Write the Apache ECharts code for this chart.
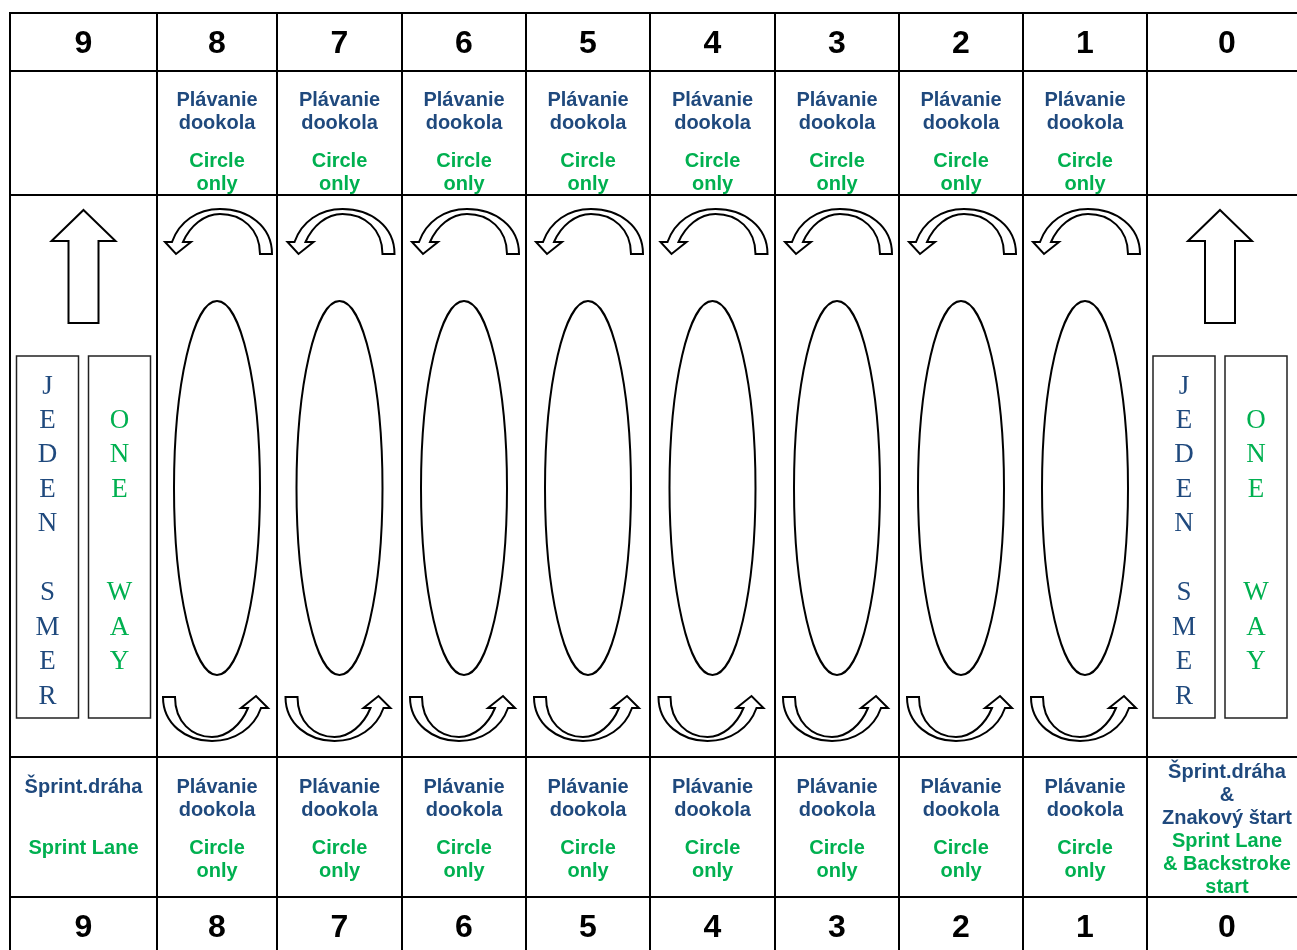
<!DOCTYPE html>
<html><head><meta charset="utf-8">
<script src="https://cdn.jsdelivr.net/npm/echarts@6/dist/echarts.min.js"></script>
<style>html,body{margin:0;padding:0;background:#fff}#c{width:1297px;height:950px}</style>
</head><body><div id="c"></div>
<script>
// ---- data ----
const laneNumbers = ['9','8','7','6','5','4','3','2','1','0'];
const laneTypes = ['oneway','circle','circle','circle','circle','circle','circle','circle','circle','oneway'];
const topTextSk = ['', 'Plávanie\ndookola','Plávanie\ndookola','Plávanie\ndookola','Plávanie\ndookola','Plávanie\ndookola','Plávanie\ndookola','Plávanie\ndookola','Plávanie\ndookola', ''];
const topTextEn = ['', 'Circle\nonly','Circle\nonly','Circle\nonly','Circle\nonly','Circle\nonly','Circle\nonly','Circle\nonly','Circle\nonly', ''];
const bottomTextSk = ['Šprint.dráha', 'Plávanie\ndookola','Plávanie\ndookola','Plávanie\ndookola','Plávanie\ndookola','Plávanie\ndookola','Plávanie\ndookola','Plávanie\ndookola','Plávanie\ndookola', 'Šprint.dráha\n&\nZnakový štart'];
const bottomTextEn = ['Sprint Lane', 'Circle\nonly','Circle\nonly','Circle\nonly','Circle\nonly','Circle\nonly','Circle\nonly','Circle\nonly','Circle\nonly', 'Sprint Lane\n& Backstroke\nstart'];
const verticalSk = ['J','E','D','E','N','','S','M','E','R'];
const verticalEn = ['','O','N','E','','','W','A','Y',''];

// ---- layout ----
const colEdges = [10,157,277,402,526,650,775,899,1023,1147,1307];
const rowEdges = [13,71,195,757,897];
const drawShift = [0,0,0,0,0,0,0,0,0,-7];
const NAVY = '#1F497D', GREEN = '#00B050';
const SANS = '"Liberation Sans", Arial, sans-serif';
const SERIF = '"Liberation Serif", "Times New Roman", serif';
const TY = 1.5; // text vertical nudge

// path templates (relative to lane drawing centre)
const topArrow = [['M',55,59],['C',55,31,31,14,3,14],['C',-20,14,-38,27,-45,47],['L',-52,47],['L',-41,59],['L',-26,47],['L',-34,47],['C',-27,31,-13,19,3,19],['C',25,19,43,34,43,59],['Z']];
const bottomArrow = [['M',-54,-60],['C',-54,-33,-31,-16,-5,-16],['C',18,-16,37,-29,44,-49],['L',51,-49],['L',39,-61],['L',24,-49],['L',31,-49],['C',24,-32,10,-20,-5,-20],['C',-25,-20,-42,-35,-42,-60],['Z']];
const upArrow = [['M',0,15],['L',32,46],['L',15,46],['L',15,128],['L',-15,128],['L',-15,46],['L',-32,46],['Z']];

function renderItem(params, api) {
  const i = params.dataIndex;
  const x0 = colEdges[i], x1 = colEdges[i+1];
  const tcx = (x0 + x1) / 2;
  const dcx = tcx + drawShift[i];
  const P = (x, y) => api.coord([x, y]);
  const ch = [];
  const line = (ax, ay, bx, by, w, c) => {
    const a = P(ax, ay), b = P(bx, by);
    ch.push({type:'line', shape:{x1:a[0],y1:a[1],x2:b[0],y2:b[1]}, style:{stroke:c||'#000', lineWidth:w||2}});
  };
  const text = (t, x, y, font, fill) => {
    const p = P(x, y + TY);
    ch.push({type:'text', style:{text:t, x:p[0], y:p[1], font:font, fill:fill, align:'center', verticalAlign:'middle'}});
  };
  const path = (tpl, ox, oy) => {
    let d = '';
    tpl.forEach(cmd => {
      d += cmd[0];
      for (let k = 1; k < cmd.length; k += 2) {
        const p = P(ox + cmd[k], oy + cmd[k+1]);
        d += ' ' + p[0].toFixed(2) + ' ' + p[1].toFixed(2);
      }
      d += ' ';
    });
    ch.push({type:'path', shape:{pathData:d}, style:{fill:'#fff', stroke:'#000', lineWidth:2, lineJoin:'miter'}});
  };
  // grid lines
  line(x0, rowEdges[0]-1, x0, 960);
  rowEdges.forEach(r => line(x0 - 1, r, x1 + 1, r));
  // numbers
  const numFont = 'bold 32px ' + SANS;
  text(laneNumbers[i], tcx, 43, numFont, '#000');
  text(laneNumbers[i], tcx, 927, numFont, '#000');
  // labels
  const lblFont = 'bold 20px ' + SANS;
  const LH = 23;
  const block = (s, y, fill) => { if (!s) return 0; const ls = s.split('\n'); ls.forEach((l, k) => text(l, tcx, y + k*LH, lblFont, fill)); return ls.length; };
  block(topTextSk[i], 99, NAVY);
  block(topTextEn[i], 160, GREEN);
  const nSk = bottomTextSk[i].split('\n').length;
  if (nSk > 2) {
    block(bottomTextSk[i], 771, NAVY);
    block(bottomTextEn[i], 771 + nSk*LH, GREEN);
  } else {
    block(bottomTextSk[i], 786, NAVY);
    block(bottomTextEn[i], 847, GREEN);
  }
  // drawings
  if (laneTypes[i] === 'circle') {
    path(topArrow, dcx, rowEdges[2]);
    path(bottomArrow, dcx, rowEdges[3]);
    const c = P(dcx, 488), e = P(dcx + 43, 488 + 187);
    ch.push({type:'ellipse', shape:{cx:c[0], cy:c[1], rx:e[0]-c[0], ry:e[1]-c[1]}, style:{fill:'none', stroke:'#000', lineWidth:2}});
  } else {
    path(upArrow, dcx, rowEdges[2]);
    [[-36, verticalSk, NAVY], [36, verticalEn, GREEN]].forEach(([off, letters, col]) => {
      const a = P(dcx + off - 31, 356), b = P(dcx + off + 31, 718);
      ch.push({type:'rect', shape:{x:a[0], y:a[1], width:b[0]-a[0], height:b[1]-a[1]}, style:{fill:'none', stroke:'#222', lineWidth:1.5}});
      letters.forEach((L, k) => { if (L) text(L, dcx + off, 385 + k*34.44, '27px ' + SERIF, col); });
    });
  }
  return {type:'group', children:ch};
}

const chart = echarts.init(document.getElementById('c'));
chart.setOption({
  animation:false,
  backgroundColor:'#fff',
  grid:{left:0, top:0, width:1297, height:950},
  xAxis:{type:'value', min:0, max:1297, show:false},
  yAxis:{type:'value', min:0, max:950, inverse:true, show:false},
  series:[{
    type:'custom',
    clip:false,
    renderItem:renderItem,
    data:laneNumbers.map((n, i) => [i, 0])
  }]
});
</script></body></html>
